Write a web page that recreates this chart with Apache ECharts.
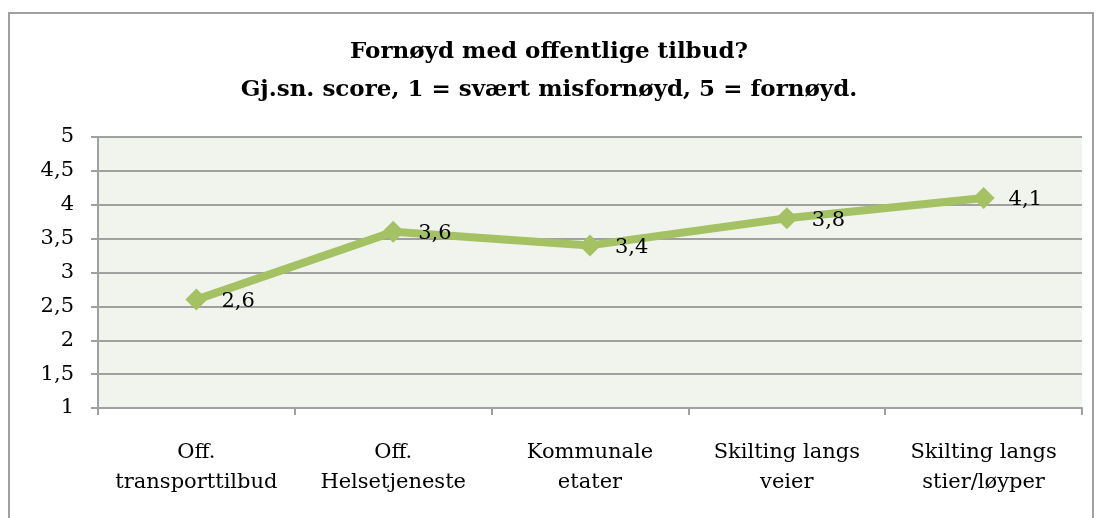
<!DOCTYPE html>
<html>
<head>
<meta charset="utf-8">
<script src="https://cdn.jsdelivr.net/npm/echarts@6/dist/echarts.min.js"></script>
<style>
  html, body { margin: 0; padding: 0; background: #fff; }
  #chart { width: 1098px; height: 518px; }
</style>
</head>
<body>
<div id="chart"></div>
<script>
var titleText = 'Fornøyd med offentlige tilbud?\nGj.sn. score, 1 = svært misfornøyd, 5 = fornøyd.';
var categories = ['Off.\ntransporttilbud', 'Off.\nHelsetjeneste', 'Kommunale\netater', 'Skilting langs\nveier', 'Skilting langs\nstier/løyper'];
var scores = [2.6, 3.6, 3.4, 3.8, 4.1];
var yMin = 1, yMax = 5, yStep = 0.5;

var font = '"DejaVu Serif", serif';

function comma(v) {
    return String(v).replace('.', ',');
}

var option = {
    animation: false,
    backgroundColor: '#fff',
    title: {
        text: titleText,
        left: 'center',
        top: 28,
        textStyle: {
            fontFamily: font,
            fontSize: 23,
            fontWeight: 'bold',
            color: '#000',
            lineHeight: 38
        }
    },
    // kantlinje rundt hele diagrammet
    graphic: [{
        type: 'rect',
        shape: { x: 9, y: 13, width: 1084, height: 520 },
        style: { fill: null, stroke: '#a0a0a0', lineWidth: 2 },
        silent: true
    }],
    grid: {
        left: 98,
        right: 16,
        top: 137,
        bottom: 110,
        show: true,
        backgroundColor: '#f1f4ec',
        borderWidth: 0
    },
    xAxis: {
        type: 'category',
        data: categories,
        boundaryGap: true,
        axisLine: { lineStyle: { color: '#a0a0a0', width: 2 } },
        axisTick: { show: true, interval: 0, length: 7, lineStyle: { color: '#a0a0a0', width: 2 } },
        axisLabel: {
            interval: 0,
            fontFamily: font,
            fontSize: 21,
            color: '#000',
            lineHeight: 30,
            margin: 30
        }
    },
    yAxis: {
        type: 'value',
        min: yMin,
        max: yMax,
        interval: yStep,
        axisLine: { show: true, lineStyle: { color: '#a0a0a0', width: 2 } },
        axisTick: { show: true, length: 7, lineStyle: { color: '#a0a0a0', width: 2 } },
        splitLine: { lineStyle: { color: '#a0a0a0', width: 2 } },
        axisLabel: {
            fontFamily: font,
            fontSize: 21,
            color: '#000',
            margin: 24,
            formatter: function (v) { return comma(v); }
        }
    },
    series: [{
        type: 'line',
        data: scores,
        symbol: 'diamond',
        symbolSize: 22,
        lineStyle: { color: '#a4c263', width: 8 },
        itemStyle: { color: '#a4c263' },
        label: {
            show: true,
            position: 'right',
            distance: 14,
            offset: [0, 2],
            fontFamily: font,
            fontSize: 21,
            color: '#000',
            formatter: function (p) { return comma(p.value); }
        }
    }]
};

var chart = echarts.init(document.getElementById('chart'));
chart.setOption(option);
window.onresize = chart.resize;
</script>
</body>
</html>
